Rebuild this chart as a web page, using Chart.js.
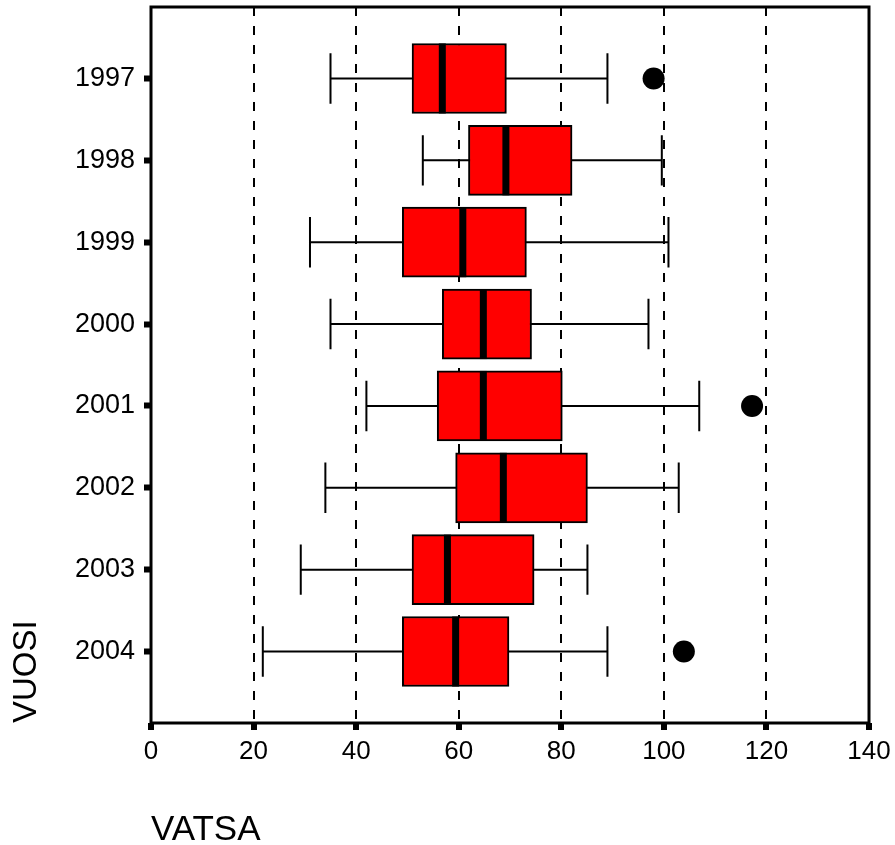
<!DOCTYPE html>
<html>
<head>
<meta charset="utf-8">
<title>VATSA vuosittain</title>
<script src="https://cdn.jsdelivr.net/npm/chart.js@4/dist/chart.umd.min.js"></script>
<style>
  html, body { margin: 0; padding: 0; background: #fff; }
  #wrap { width: 895px; height: 845px; }
</style>
</head>
<body>
<div id="wrap"><canvas id="boxGraph" width="895" height="845"></canvas></div>
<script>
// vuodet ylhäältä alas
const years = ['1997', '1998', '1999', '2000', '2001', '2002', '2003', '2004'];
const whiskerLow = [35, 53, 31, 35, 42, 34, 29.2, 21.8];
const q1 = [50.9, 61.9, 49, 56.8, 55.8, 59.4, 50.9, 49];
const median = [56.8, 69.2, 60.8, 64.8, 64.8, 68.7, 57.8, 59.4];
const q3 = [69.3, 82.1, 73.2, 74.2, 80.2, 85.1, 74.7, 69.8];
const whiskerHigh = [89, 99.6, 100.9, 97, 106.9, 102.9, 85.1, 89];
const outliers = [[98], [], [], [], [117.2], [], [], [103.9]];
const xTicks = [0, 20, 40, 60, 80, 100, 120, 140];

// 1997 ylimpänä -> suurin arvo y-akselilla
const rowPos = years.map((_, i) => years.length - i);

Chart.defaults.font.family = "'Liberation Sans', Arial, Helvetica, sans-serif";
Chart.defaults.color = '#000';

const boxParts = {
    id: 'boxParts',
    beforeDatasetsDraw(chart) {
        // viikset ja päätyviivat laatikoiden alle
        const { ctx, scales: { x, y } } = chart;
        const bars = chart.getDatasetMeta(0).data;
        ctx.save();
        ctx.strokeStyle = '#000';
        ctx.lineWidth = 2;
        years.forEach((_, i) => {
            const yc = y.getPixelForValue(rowPos[i]);
            const cap = bars[i].height * 0.36;
            const xl = x.getPixelForValue(whiskerLow[i]);
            const xh = x.getPixelForValue(whiskerHigh[i]);
            ctx.beginPath();
            ctx.moveTo(xl, yc); ctx.lineTo(xh, yc);
            ctx.moveTo(xl, yc - cap); ctx.lineTo(xl, yc + cap);
            ctx.moveTo(xh, yc - cap); ctx.lineTo(xh, yc + cap);
            ctx.stroke();
        });
        ctx.restore();
    },
    afterDatasetDraw(chart, args) {
        if (args.index !== 0) return;
        // mediaani paksuna mustana viivana
        const { ctx, scales: { x, y } } = chart;
        const bars = chart.getDatasetMeta(0).data;
        ctx.save();
        ctx.fillStyle = '#000';
        years.forEach((_, i) => {
            const yc = y.getPixelForValue(rowPos[i]);
            const h = bars[i].height;
            const xm = x.getPixelForValue(median[i]);
            ctx.fillRect(xm - 3.5, yc - h / 2, 7, h);
        });
        ctx.restore();
    },
    afterDraw(chart) {
        const { ctx, chartArea: a } = chart;
        ctx.save();
        ctx.strokeStyle = '#000';
        ctx.lineWidth = 3;
        ctx.strokeRect(a.left, a.top, a.right - a.left, a.bottom - a.top);
        ctx.restore();
    }
};

window.onload = function() {
    const ctx = document.getElementById('boxGraph').getContext('2d');

    const outlierPoints = [];
    outliers.forEach((list, i) => {
        list.forEach(v => outlierPoints.push({ x: v, y: rowPos[i] }));
    });

    new Chart(ctx, {
        type: 'bar',
        data: {
            datasets: [{
                label: 'VATSA',
                data: years.map((_, i) => ({ x: [q1[i], q3[i]], y: rowPos[i] })),
                backgroundColor: '#ff0000',
                borderColor: '#000',
                borderWidth: 2,
                borderSkipped: false,
                barThickness: 70
            }, {
                type: 'scatter',
                label: 'poikkeavat',
                data: outlierPoints,
                backgroundColor: '#000',
                borderWidth: 0,
                pointRadius: 11
            }]
        },
        options: {
            indexAxis: 'y',
            responsive: false,
            animation: false,
            events: [],
            layout: { autoPadding: false, padding: { top: 7, right: 26, bottom: 0, left: 0 } },
            plugins: {
                legend: { display: false },
                tooltip: { enabled: false }
            },
            scales: {
                x: {
                    type: 'linear',
                    min: 0,
                    max: 140,
                    offset: false,
                    afterBuildTicks: s => { s.ticks = xTicks.map(v => ({ value: v })); },
                    afterFit: s => { s.height = 122; s.paddingLeft = 0; s.paddingRight = 0; },
                    ticks: { font: { size: 26 }, padding: 6, color: '#000' },
                    grid: {
                        offset: false,
                        color: c => (c.tick && (c.tick.value === 0 || c.tick.value === 140)) ? 'rgba(0,0,0,0)' : '#000',
                        lineWidth: 2,
                        tickColor: '#000',
                        tickWidth: 6,
                        tickLength: 7,
                        tickBorderDash: []
                    },
                    border: { display: false, dash: [9, 10] },
                    title: {
                        display: true,
                        text: 'VATSA',
                        align: 'start',
                        color: '#000',
                        font: { size: 35, lineHeight: 1 },
                        padding: { top: 0, bottom: -3 }
                    }
                },
                y: {
                    type: 'linear',
                    min: 0.127,
                    max: 8.873,
                    offset: false,
                    afterBuildTicks: s => { s.ticks = rowPos.map(v => ({ value: v })); },
                    afterFit: s => { s.width = 151; s.paddingTop = 0; s.paddingBottom = 0; },
                    ticks: {
                        font: { size: 27 },
                        padding: 9,
                        color: '#000',
                        callback: v => years[years.length - Math.round(v)]
                    },
                    grid: {
                        offset: false,
                        drawOnChartArea: false,
                        color: '#000',
                        tickColor: '#000',
                        tickWidth: 6,
                        tickLength: 7
                    },
                    border: { display: false },
                    title: {
                        display: true,
                        text: 'VUOSI',
                        align: 'start',
                        color: '#000',
                        font: { size: 33, lineHeight: 1 },
                        padding: { top: 10, bottom: 0 }
                    }
                }
            }
        },
        plugins: [boxParts]
    });
};
</script>
</body>
</html>
